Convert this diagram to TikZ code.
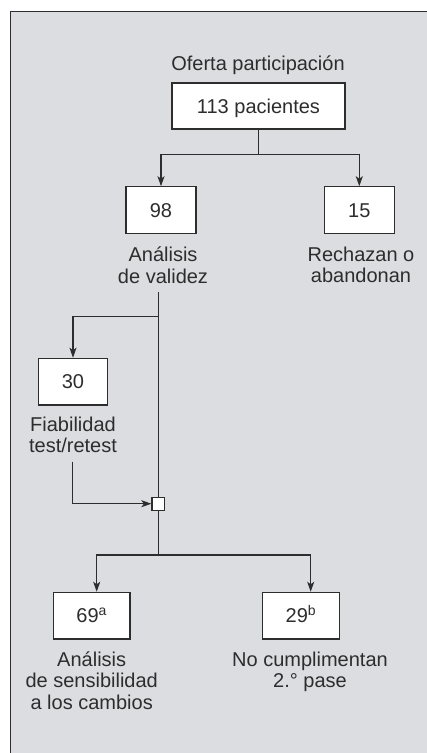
\documentclass[tikz,border=0pt]{standalone}
\usepackage{fontspec}
\setmainfont{Liberation Sans}
\usepackage{tikz}
\usetikzlibrary{arrows.meta}
\definecolor{panelgray}{RGB}{220,221,225}
\definecolor{inkgray}{RGB}{45,45,45}
\tikzset{
  box/.style={draw=inkgray, fill=white, line width=1.2pt, inner sep=0pt,
    text height=14.3pt, text depth=0pt, text=inkgray},
  caption/.style={align=center, inner sep=0pt, anchor=north, text=inkgray,
    font=\fontsize{20}{21.3}\selectfont},
  arr/.style={draw=inkgray, line width=1.2pt,
    -{Stealth[length=10pt, width=7pt, inset=2.5pt]}},
  ln/.style={draw=inkgray, line width=1.2pt},
}

\begin{document}
\begin{tikzpicture}[x=1pt, y=-1pt, font=\fontsize{20}{21.3}\selectfont]
    \useasboundingbox (0,0) rectangle (427,753);
    \fill [panelgray] (10,11) rectangle (440,770);
    \draw [ln, line width=1pt] (10,770) -- (10,11) -- (440,11);

    \node [anchor=base, inner sep=0pt, text=inkgray] (offer) at (258,70) {Oferta participación};
    \node [box, minimum width=173pt, minimum height=46pt] (b113) at (258.5,106) {113 pacientes};

    \node [box, minimum width=70pt, minimum height=47pt] (b98) at (161,210.3) {98};
    \node [box, minimum width=70pt, minimum height=47pt] (b15) at (359.3,210.3) {15};
    \node [caption] (l98) at (163,247) {Análisis\\de validez};
    \node [caption] (l15) at (361,247) {Rechazan o\\abandonan};

    \node [box, minimum width=69.4pt, minimum height=46.7pt] (b30) at (73,381.7) {30};
    \node [caption] (l30) at (73,416.5) {Fiabilidad\\test/retest};

    \node [draw=inkgray, fill=white, line width=1.4pt, inner sep=0pt,
      minimum width=12.5pt, minimum height=13pt] (sq) at (158.3,503.7) {};

    \node [box, minimum width=76.7pt, minimum height=46.7pt] (b69) at (91.7,615.7) {69\textsuperscript{a}};
    \node [box, minimum width=76.7pt, minimum height=46.7pt] (b29) at (301,615.7) {29\textsuperscript{b}};
    \node [caption] (l69) at (91.7,651.5) {Análisis\\de sensibilidad\\a los cambios};
    \node [caption] (l29) at (310,651.5) {No cumplimentan\\2.° pase};

    % splits
    \coordinate (s1) at (258.5,154.3);
    \coordinate (v1) at (158.3,291.7);
    \coordinate (s2) at (158.3,316.7);
    \coordinate (v2) at (72.3,461.7);
    \coordinate (s3) at (158.3,555);

    \draw [ln] (b113.south) -- (s1);
    \draw [arr] (s1) -| (b98.north);
    \draw [arr] (s1) -| (b15.north);

    \draw [ln] (v1) -- (sq.north);
    \draw [arr] (s2) -| (b30.north);
    \draw [arr] (v2) |- (sq.west);

    \draw [ln] (sq.south) -- (s3);
    \draw [arr] (s3) -| ([xshift=5pt]b69.north);
    \draw [arr] (s3) -| ([xshift=9.7pt]b29.north);
  \end{tikzpicture}
\end{document}
